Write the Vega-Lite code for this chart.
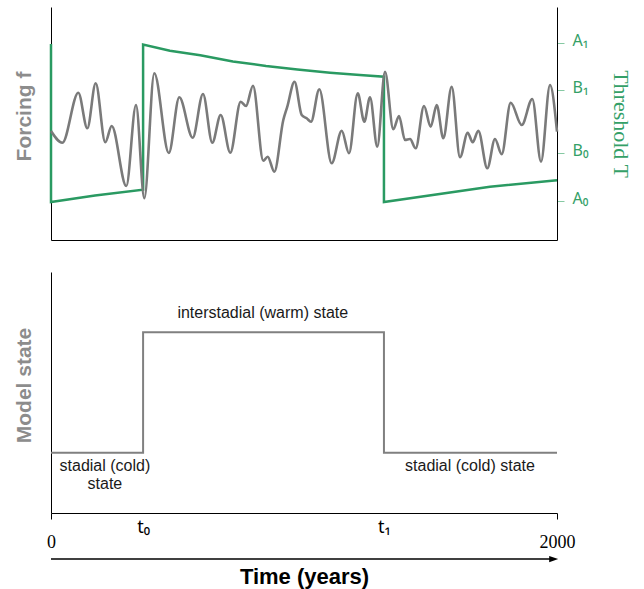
{
  "$schema": "https://vega.github.io/schema/vega-lite/v6.json",
  "padding": {"left": 13, "top": 7, "right": 5, "bottom": 5},
  "spacing": 32,
  "config": {
    "view": {"stroke": null},
    "axis": {"grid": false, "domainColor": "#000000", "domainWidth": 1, "labelFlush": false, "labelOverlap": false}
  },
  "datasets": {
    "forcing": [
      {"t": 0, "f": 109}, {"t": 45, "f": 97.3}, {"t": 108, "f": 147.3}, {"t": 143.5, "f": 111.7},
      {"t": 176.7, "f": 156.7}, {"t": 214.6, "f": 97.7}, {"t": 239.9, "f": 114}, {"t": 297.6, "f": 54},
      {"t": 336, "f": 135}, {"t": 368.8, "f": 41.7}, {"t": 408.3, "f": 166.7}, {"t": 465.6, "f": 87},
      {"t": 507.1, "f": 142.7}, {"t": 560, "f": 102.3}, {"t": 600.8, "f": 146}, {"t": 637.5, "f": 97.3},
      {"t": 670.7, "f": 125}, {"t": 708.7, "f": 87.3}, {"t": 749.8, "f": 138.3}, {"t": 770.8, "f": 134},
      {"t": 798.4, "f": 154.3}, {"t": 839.1, "f": 79.3}, {"t": 856.5, "f": 83.3}, {"t": 882.6, "f": 68.3},
      {"t": 918.2, "f": 120}, {"t": 934, "f": 133.3}, {"t": 962.5, "f": 158.3}, {"t": 990.9, "f": 125},
      {"t": 1010.7, "f": 121.7}, {"t": 1027.7, "f": 118.3}, {"t": 1060.5, "f": 150.7}, {"t": 1109.5, "f": 76.7},
      {"t": 1149, "f": 109.3}, {"t": 1177.9, "f": 86.7}, {"t": 1212.3, "f": 146.7}, {"t": 1238.4, "f": 118.3},
      {"t": 1260.9, "f": 142.7}, {"t": 1289.7, "f": 93.3}, {"t": 1320.2, "f": 168.3}, {"t": 1353, "f": 110.7},
      {"t": 1375.5, "f": 124}, {"t": 1399.2, "f": 100}, {"t": 1419, "f": 101}, {"t": 1441.5, "f": 91.7},
      {"t": 1474.3, "f": 134}, {"t": 1500.8, "f": 113.3}, {"t": 1524.5, "f": 135}, {"t": 1550.6, "f": 101.7},
      {"t": 1583.8, "f": 153.3}, {"t": 1616.6, "f": 82.7}, {"t": 1647, "f": 107.3}, {"t": 1666.8, "f": 97.7},
      {"t": 1688.9, "f": 109.3}, {"t": 1724.5, "f": 71.7}, {"t": 1754.9, "f": 101}, {"t": 1781.4, "f": 85.7},
      {"t": 1817, "f": 137.3}, {"t": 1860.5, "f": 115}, {"t": 1902.4, "f": 141}, {"t": 1936.8, "f": 78.3},
      {"t": 1972.4, "f": 155}, {"t": 2000, "f": 108.3}
    ],
    "threshold": [
      {"order": 1, "t": 0, "T": 196}, {"order": 2, "t": 0, "T": 38}, {"order": 3, "t": 174, "T": 44.5},
      {"order": 4, "t": 364, "T": 50.3}, {"order": 5, "t": 364, "T": 195.5}, {"order": 6, "t": 470, "T": 189.3},
      {"order": 7, "t": 590, "T": 184.8}, {"order": 8, "t": 719, "T": 178.6}, {"order": 9, "t": 850, "T": 174},
      {"order": 10, "t": 974, "T": 170.4}, {"order": 11, "t": 1103, "T": 167.3}, {"order": 12, "t": 1221, "T": 165},
      {"order": 13, "t": 1316, "T": 163.3}, {"order": 14, "t": 1316, "T": 38}, {"order": 15, "t": 1735, "T": 53.3},
      {"order": 16, "t": 2000, "T": 59.7}
    ],
    "state": [
      {"t": 0, "level": 0}, {"t": 364, "level": 1}, {"t": 1316, "level": 0}, {"t": 2000, "level": 0}
    ],
    "notes": [
      {"label": "interstadial (warm) state", "t": 837, "level": 1.116},
      {"label": "stadial (cold)", "t": 213, "level": -0.149},
      {"label": "state", "t": 213, "level": -0.303},
      {"label": "stadial (cold) state", "t": 1656, "level": -0.149}
    ],
    "arrow": [
      {"t": 0, "t_end": 1980, "level": -0.882}
    ],
    "arrowhead": [
      {"t": 1987, "level": -0.882}
    ]
  },
  "vconcat": [
    {
      "width": 506,
      "height": 233,
      "layer": [
        {
          "data": {"name": "threshold"},
          "mark": {"type": "line", "color": "#2a9a62", "strokeWidth": 2.5, "interpolate": "linear"},
          "encoding": {
            "x": {"field": "t", "type": "quantitative", "scale": {"domain": [0, 2000], "nice": false},
                  "axis": {"title": null, "labels": false, "ticks": false}},
            "y": {"field": "T", "type": "quantitative", "scale": {"domain": [0, 233], "nice": false, "zero": false},
                  "axis": {"orient": "right", "title": "Threshold T",
                           "values": [39, 86.5, 150, 196.5],
                           "labelExpr": "datum.value > 190 ? 'A₁' : datum.value > 120 ? 'B₁' : datum.value > 60 ? 'B₀' : 'A₀'",
                           "labelFont": "Noto Sans", "labelFontSize": 16, "labelColor": "#34a067",
                           "tickColor": "#86c9a3", "tickSize": 7, "labelPadding": 8, "labelOffset": -3,
                           "titleFont": "Liberation Serif", "titleFontSize": 22, "titleFontWeight": "normal",
                           "titleColor": "#34a067", "titlePadding": 20}},
            "order": {"field": "order", "type": "quantitative"}
          }
        },
        {
          "data": {"name": "forcing"},
          "mark": {"type": "line", "color": "#7a7a7a", "strokeWidth": 2.6, "interpolate": "monotone"},
          "encoding": {
            "x": {"field": "t", "type": "quantitative", "scale": {"domain": [0, 2000], "nice": false},
                  "axis": {"title": null, "labels": false, "ticks": false}},
            "y": {"field": "f", "type": "quantitative", "scale": {"domain": [0, 233], "nice": false, "zero": false},
                  "axis": {"orient": "left", "title": "Forcing f", "labels": false, "ticks": false,
                           "titleFont": "Liberation Sans", "titleFontSize": 21, "titleFontWeight": "bold",
                           "titleColor": "#8c8c8c", "titlePadding": 17, "titleY": 109}}
          }
        }
      ],
      "resolve": {"scale": {"y": "independent"}, "axis": {"y": "independent"}}
    },
    {
      "width": 506,
      "height": 241,
      "encoding": {
        "x": {"field": "t", "type": "quantitative", "scale": {"domain": [0, 2000], "nice": false},
              "axis": {"title": "Time (years)", "titleFont": "Liberation Sans", "titleFontSize": 22,
                       "titleFontWeight": "bold", "titleColor": "#000000", "titlePadding": 15,
                       "values": [0, 364, 1316, 2000],
                       "labelExpr": "datum.value == 0 ? '0' : datum.value == 2000 ? '2000' : datum.value < 1000 ? 't₀' : 't₁'",
                       "labelFont": {"condition": {"test": "datum.value == 0 || datum.value == 2000", "value": "Liberation Serif"}, "value": "Noto Sans"},
                       "labelFontSize": 18, "labelColor": "#000000",
                       "labelPadding": {"condition": {"test": "datum.value == 0 || datum.value == 2000", "value": 14}, "value": -1},
                       "tickSize": 6,
                       "tickColor": {"condition": {"test": "datum.value == 0 || datum.value == 2000", "value": "#000000"}, "value": "transparent"}}},
        "y": {"field": "level", "type": "quantitative", "scale": {"domain": [-0.5, 1.5], "nice": false, "zero": false},
              "axis": {"title": "Model state", "labels": false, "ticks": false,
                       "titleFont": "Liberation Sans", "titleFontSize": 21, "titleFontWeight": "bold",
                       "titleColor": "#8c8c8c", "titlePadding": 17, "titleY": 113}}
      },
      "layer": [
        {
          "data": {"name": "state"},
          "mark": {"type": "line", "color": "#808080", "strokeWidth": 2, "interpolate": "step-after"}
        },
        {
          "data": {"name": "notes"},
          "mark": {"type": "text", "font": "Liberation Sans", "fontSize": 16, "align": "center", "baseline": "alphabetic", "color": "#1a1a1a"},
          "encoding": {"text": {"field": "label", "type": "nominal"}}
        },
        {
          "data": {"name": "arrow"},
          "mark": {"type": "rule", "color": "#000000", "strokeWidth": 1.5},
          "encoding": {
            "x2": {"field": "t_end"}
          }
        },
        {
          "data": {"name": "arrowhead"},
          "mark": {"type": "point", "shape": "M-1,-0.7L1,0L-1,0.7Z", "filled": true, "color": "#000000", "opacity": 1, "size": 81}
        }
      ]
    }
  ]
}
